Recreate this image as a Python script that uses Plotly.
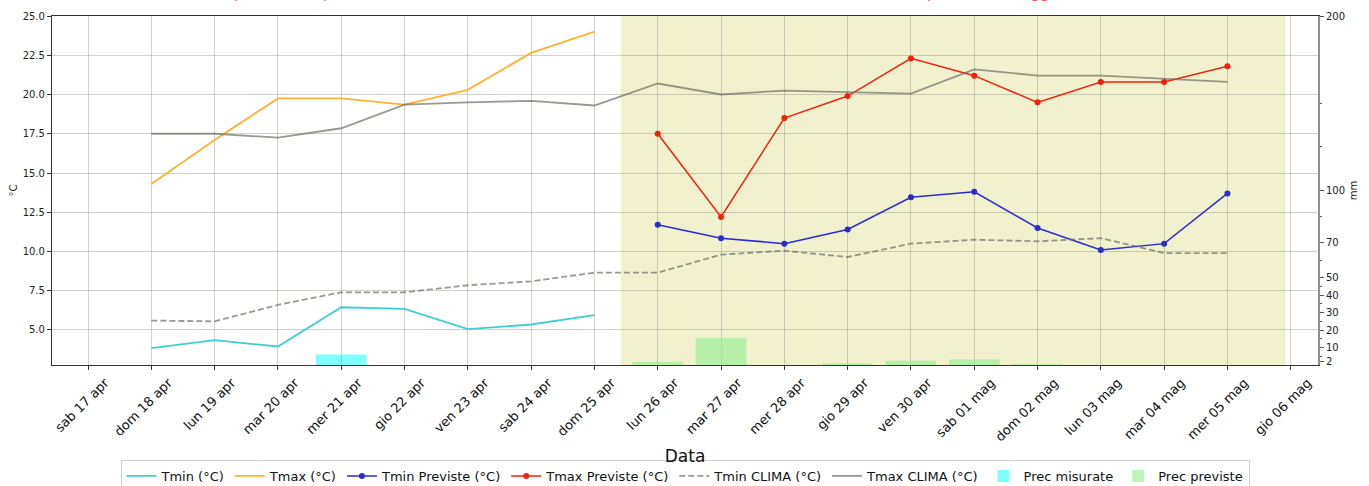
import plotly.graph_objects as go

# ---- data ----
obs_dates = ["2021-04-18", "2021-04-19", "2021-04-20", "2021-04-21",
             "2021-04-22", "2021-04-23", "2021-04-24", "2021-04-25"]
tmin_obs = [3.85, 4.35, 3.95, 6.45, 6.35, 5.05, 5.35, 5.95]
tmax_obs = [14.3, 17.1, 19.75, 19.75, 19.35, 20.3, 22.65, 24.0]

fc_dates = ["2021-04-26", "2021-04-27", "2021-04-28", "2021-04-29", "2021-04-30",
            "2021-05-01", "2021-05-02", "2021-05-03", "2021-05-04", "2021-05-05"]
tmin_fc = [11.7, 10.85, 10.5, 11.4, 13.45, 13.8, 11.5, 10.1, 10.5, 13.7]
tmax_fc = [17.5, 12.2, 18.5, 19.9, 22.3, 21.2, 19.5, 20.8, 20.8, 21.8]

clima_dates = obs_dates + fc_dates
tmin_clima = [5.6, 5.55, 6.6, 7.4, 7.4, 7.85, 8.1, 8.65, 8.65, 9.8,
              10.05, 9.65, 10.5, 10.75, 10.65, 10.85, 9.9, 9.9]
tmax_clima = [17.5, 17.5, 17.25, 17.85, 19.35, 19.5, 19.6, 19.3, 20.7, 20.0,
              20.25, 20.15, 20.05, 21.6, 21.2, 21.2, 21.0, 20.8]

prec_obs = [0, 0, 0, 6.0, 0, 0, 0, 0]
prec_fc = [1.8, 15.5, 0, 0.8, 2.4, 3.2, 0.4, 0, 0, 0]

tick_dates = ["2021-04-17", "2021-04-18", "2021-04-19", "2021-04-20", "2021-04-21",
              "2021-04-22", "2021-04-23", "2021-04-24", "2021-04-25", "2021-04-26",
              "2021-04-27", "2021-04-28", "2021-04-29", "2021-04-30", "2021-05-01",
              "2021-05-02", "2021-05-03", "2021-05-04", "2021-05-05", "2021-05-06"]
tick_labels = ["sab 17 apr", "dom 18 apr", "lun 19 apr", "mar 20 apr", "mer 21 apr",
               "gio 22 apr", "ven 23 apr", "sab 24 apr", "dom 25 apr", "lun 26 apr",
               "mar 27 apr", "mer 28 apr", "gio 29 apr", "ven 30 apr", "sab 01 mag",
               "dom 02 mag", "lun 03 mag", "mar 04 mag", "mer 05 mag", "gio 06 mag"]

mm_ticks = [2, 10, 20, 30, 40, 50, 70, 100, 200]
mm_minor = [5, 15, 25, 35, 45, 60, 85, 125, 150]

title_obs = "dal 18 aprile al 25 aprile"
title_fc = "dal 26 aprile al 05 maggio"

FONT = "DejaVu Sans"
DAY_MS = 86400000
GRID = "rgba(128,128,118,0.36)"

fig = go.Figure()

fig.add_trace(go.Bar(x=obs_dates, y=prec_obs, name="Prec misurate", yaxis="y2",
                     width=0.8 * DAY_MS, marker=dict(color="rgba(0,255,255,0.5)", line=dict(width=0))))
fig.add_trace(go.Bar(x=fc_dates, y=prec_fc, name="Prec previste", yaxis="y2",
                     width=0.8 * DAY_MS, marker=dict(color="rgba(144,238,144,0.6)", line=dict(width=0))))

fig.add_trace(go.Scatter(x=obs_dates, y=tmin_obs, name="Tmin (°C)", mode="lines",
                         line=dict(color="#40CFCF", width=1.8)))
fig.add_trace(go.Scatter(x=obs_dates, y=tmax_obs, name="Tmax (°C)", mode="lines",
                         line=dict(color="#FFB133", width=1.8)))
fig.add_trace(go.Scatter(x=fc_dates, y=tmin_fc, name="Tmin Previste (°C)", mode="lines+markers",
                         line=dict(color="#2B2BD0", width=1.5),
                         marker=dict(color="#2B2BD0", size=6)))
fig.add_trace(go.Scatter(x=fc_dates, y=tmax_fc, name="Tmax Previste (°C)", mode="lines+markers",
                         line=dict(color="#F0220E", width=1.5),
                         marker=dict(color="#F0220E", size=6)))
fig.add_trace(go.Scatter(x=clima_dates, y=tmin_clima, name="Tmin CLIMA (°C)", mode="lines",
                         line=dict(color="rgba(110,110,100,0.7)", width=1.8, dash="6px,3px")))
fig.add_trace(go.Scatter(x=clima_dates, y=tmax_clima, name="Tmax CLIMA (°C)", mode="lines",
                         line=dict(color="rgba(110,110,100,0.7)", width=1.8)))

order = ["Tmin (°C)", "Tmax (°C)", "Tmin Previste (°C)", "Tmax Previste (°C)",
         "Tmin CLIMA (°C)", "Tmax CLIMA (°C)", "Prec misurate", "Prec previste"]
for tr in fig.data:
    tr.legendrank = order.index(tr.name) + 1

fig.add_shape(type="rect", xref="x", yref="paper",
              x0="2021-04-25 10:00", x1="2021-05-05 22:00", y0=0, y1=1,
              fillcolor="rgb(241,241,206)", line=dict(width=0), layer="below")

fig.add_annotation(text=title_obs, xref="paper", yref="paper", x=0.168, y=1.035,
                   xanchor="center", yanchor="bottom", showarrow=False,
                   font=dict(family=FONT, size=15, color="rgba(255,60,60,0.85)"))
fig.add_annotation(text=title_fc, xref="paper", yref="paper", x=0.721, y=1.035,
                   xanchor="center", yanchor="bottom", showarrow=False,
                   font=dict(family=FONT, size=15, color="rgba(255,60,60,0.85)"))

fig.update_layout(
    width=1369, height=486,
    margin=dict(l=52, r=51, t=16, b=121, autoexpand=False),
    paper_bgcolor="white", plot_bgcolor="white",
    font=dict(family=FONT, color="#222"),
    barmode="overlay",
    showlegend=True,
    legend=dict(orientation="h", x=0.5, xanchor="center", y=-0.272, yanchor="top",
                font=dict(family=FONT, size=13, color="#111"),
                bordercolor="#d0d0d0", borderwidth=1, bgcolor="white",
                itemwidth=30, traceorder="normal"),
    xaxis=dict(
        type="date", automargin=False,
        range=["2021-04-16 10:20", "2021-05-06 10:20"],
        tickmode="array", tickvals=tick_dates, ticktext=tick_labels,
        tickangle=-45, ticklabelshift=17,
        tickfont=dict(family=FONT, size=13, color="#111"),
        ticks="outside", ticklen=4, tickcolor="#333",
        showgrid=True, gridcolor=GRID, gridwidth=1,
        showline=True, linecolor="#333", linewidth=1.2, mirror=True,
        zeroline=False,
        title=dict(text="Data", font=dict(family=FONT, size=17, color="#111"), standoff=6),
    ),
    yaxis=dict(
        automargin=False,
        range=[2.77, 25], tickmode="linear", tick0=0, dtick=2.5, tickformat=".1f",
        tickfont=dict(family=FONT, size=10, color="#222"),
        ticks="outside", ticklen=4, tickcolor="#333",
        showgrid=True, gridcolor=GRID, gridwidth=1,
        showline=True, linecolor="#333", linewidth=1.2,
        zeroline=False,
        title=dict(text="°C", font=dict(family=FONT, size=10, color="#222"), standoff=3),
    ),
    yaxis2=dict(
        automargin=False,
        overlaying="y", side="right", range=[0, 200],
        tickmode="array", tickvals=mm_ticks, ticktext=[str(v) for v in mm_ticks],
        tickfont=dict(family=FONT, size=10, color="#222"),
        ticks="outside", ticklen=4, tickcolor="#555",
        minor=dict(tickmode="array", tickvals=mm_minor, ticks="outside", ticklen=2, tickcolor="#555"),
        showgrid=False, zeroline=False,
        showline=True, linecolor="#909090", linewidth=2,
        title=dict(text="mm", font=dict(family=FONT, size=10, color="#222"), standoff=6),
    ),
)

fig.write_html("out.html", config={"displayModeBar": False},
               post_script="document.body.style.margin='0';")
